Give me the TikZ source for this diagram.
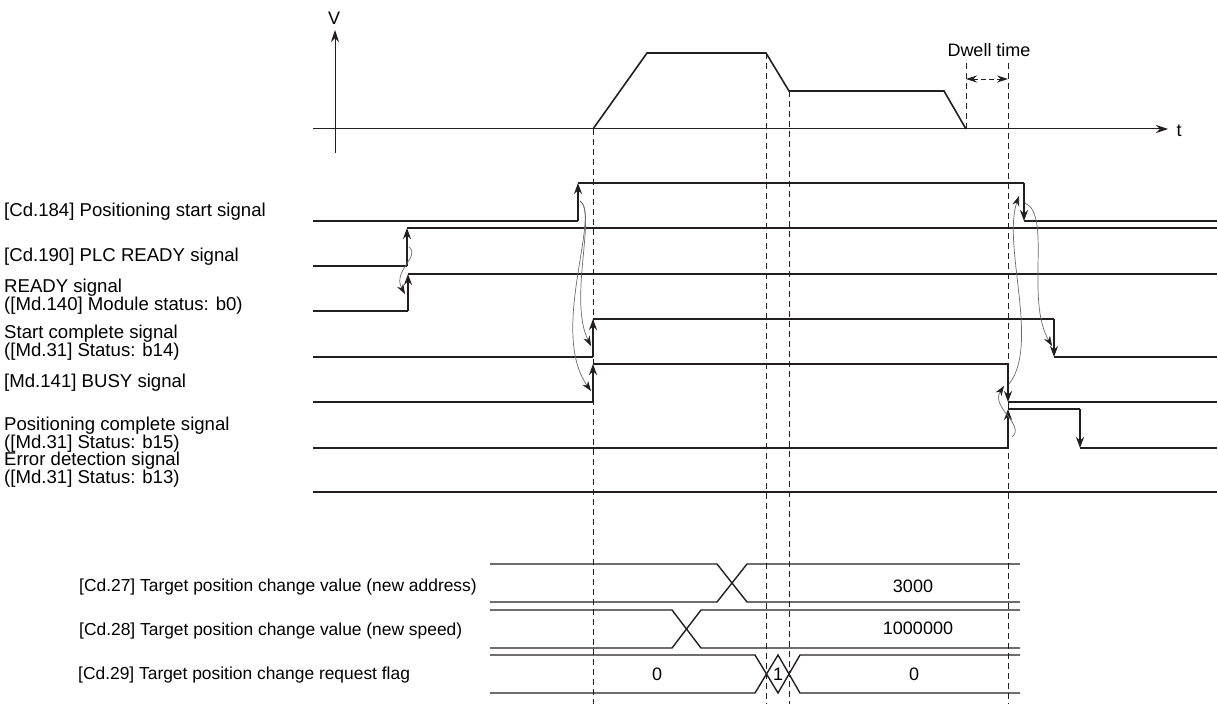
\documentclass[tikz,border=0pt]{standalone}
\usepackage{fontspec}
\setmainfont{Liberation Sans}
\usetikzlibrary{arrows.meta,positioning,calc}
\definecolor{sigblack}{HTML}{231F20}
\definecolor{causegrey}{HTML}{6A6A6A}
\tikzset{
  wave/.style       = {line width=2pt, draw=sigblack},
  edge/.style       = {line width=2pt, draw=sigblack, -{Stealth[length=11pt,width=8pt]}},
  profile/.style    = {line width=1.6pt, draw=sigblack, line join=miter},
  axis/.style       = {line width=1pt, draw=sigblack, -{Stealth[length=12pt,width=8pt]}},
  guide/.style      = {line width=0.9pt, draw=sigblack, dash pattern=on 6pt off 4pt},
  dwell/.style      = {line width=0.9pt, draw=sigblack, dash pattern=on 5pt off 3pt,
                       {Stealth[length=11pt,width=7pt]}-{Stealth[length=11pt,width=7pt]}},
  cause/.style      = {line width=0.7pt, draw=causegrey, -{Stealth[length=10pt,width=7pt,color=sigblack]}},
  bus/.style        = {line width=1.4pt, draw=sigblack},
  lbl/.style        = {font=\fontsize{18.6}{17}\selectfont, anchor=base west, align=left, inner sep=0pt},
  dlbl/.style       = {font=\fontsize{17.4}{17}\selectfont, anchor=base west, inner sep=0pt},
  val/.style        = {font=\fontsize{18}{18}\selectfont, inner sep=0pt},
}

\begin{document}
\begin{tikzpicture}[x=1pt, y=-1pt]
  \useasboundingbox (0,0) rectangle (1218,706);

  \draw[guide] (593,129) -- (593,704);
  \draw[guide] (766,53) -- (766,704);
  \draw[guide] (789,91) -- (789,704);
  \draw[guide] (966,63) -- (966,129);
  \draw[guide] (1008,63) -- (1008,704);

  \draw[axis] (335,153) -- (335,30);
  \draw[axis] (313,129) -- (1168,129);
  \node[val] (vlab) at (334,18) {V};
  \node[val] (tlab) at (1179,131) {t};
  \draw[profile] (593,129) -- (647,53) -- (766,53) -- (789,91) -- (944,91) -- (966,129);
  \node[val] (dwlab) at (989,50) {Dwell time};
  \draw[dwell] (966,79) -- (1008,79);

  \node[lbl] (cd184) at (4,216.5) {[Cd.184] Positioning start signal};
  \node[lbl] (cd190) at (4,261.5) {[Cd.190] PLC READY signal};
  \node[lbl] (ready) at (4,310.5) {READY signal\\([Md.140] Module status: b0)};
  \node[lbl] (stcmp) at (4,356.5) {Start complete signal\\([Md.31] Status: b14)};
  \node[lbl] (busy)  at (4,387.5) {[Md.141] BUSY signal};
  \node[lbl] (pscmp) at (4,448.5) {Positioning complete signal\\([Md.31] Status: b15)};
  \node[lbl] (error) at (4,483.5) {Error detection signal\\([Md.31] Status: b13)};

  \draw[wave] (313,221) -- (578,221);
  \draw[edge] (578,221) -- (578,183);
  \draw[wave] (578,183) -- (1024,183);
  \draw[edge] (1024,183) -- (1024,221);
  \draw[wave] (1024,221) -- (1217,221);

  \draw[wave] (313,266) -- (407,266);
  \draw[edge] (407,266) -- (407,228);
  \draw[wave] (407,228) -- (1217,228);

  \draw[wave] (313,311) -- (408,311);
  \draw[edge] (408,311) -- (408,274);
  \draw[wave] (408,274) -- (1217,274);

  \draw[wave] (313,357) -- (593,357);
  \draw[edge] (593,357) -- (593,319);
  \draw[wave] (593,319) -- (1054,319);
  \draw[edge] (1054,319) -- (1054,357);
  \draw[wave] (1054,357) -- (1217,357);

  \draw[wave] (313,402) -- (593,402);
  \draw[edge] (593,402) -- (593,364);
  \draw[wave] (593,364) -- (1008,364);
  \draw[edge] (1008,364) -- (1008,402);
  \draw[wave] (1008,402) -- (1217,402);

  \draw[wave] (313,448) -- (1008,448);
  \draw[edge] (1008,448) -- (1008,409);
  \draw[wave] (1008,409) -- (1080,409);
  \draw[edge] (1080,409) -- (1080,448);
  \draw[wave] (1080,448) -- (1217,448);

  \draw[wave] (313,492) -- (1217,492);

  \coordinate (plcOn)   at (409,247);
  \coordinate (rdyOn)   at (405,294);
  \coordinate (startOn) at (580,201);
  \coordinate (scOn)    at (591,346);
  \coordinate (busyOn)  at (591,391);
  \coordinate (startOff) at (1025,203);
  \coordinate (scOff)   at (1052,346);
  \coordinate (busyOff) at (1009,384);
  \coordinate (startOffB) at (1019,196);
  \coordinate (pcOn)    at (1012,437);
  \coordinate (busyOffB) at (1004,386);

  \draw[cause] (plcOn) .. controls (421,256) and (392,271) .. (rdyOn);
  \draw[cause] (startOn) .. controls (597,212) and (568,300) .. (scOn);
  \draw[cause] (startOn) .. controls (601,215) and (549,332) .. (busyOn);
  \draw[cause] (startOff) .. controls (1052,215) and (1025,300) .. (scOff);
  \draw[cause] (busyOff) .. controls (1040,345) and (1002,245) .. (startOffB);
  \draw[cause] (pcOn) .. controls (1026,425) and (990,407) .. (busyOffB);

  \node[dlbl] (cd27) at (79,591) {[Cd.27] Target position change value (new address)};
  \node[dlbl] (cd28) at (79,635) {[Cd.28] Target position change value (new speed)};
  \node[dlbl] (cd29) at (78,679) {[Cd.29] Target position change request flag};

  \draw[bus] (490,564) -- (717,564) -- (747,602) -- (1020,602);
  \draw[bus] (490,602) -- (717,602) -- (747,564) -- (1020,564);
  \node[val] (addr) at (913,586) {3000};

  \draw[bus] (490,610) -- (672,610) -- (701,648) -- (1020,648);
  \draw[bus] (490,648) -- (672,648) -- (701,610) -- (1020,610);
  \node[val] (spd) at (918,628) {1000000};

  \draw[bus] (490,655) -- (755,655) -- (778,693) -- (800,655) -- (1020,655);
  \draw[bus] (490,693) -- (755,693) -- (778,655) -- (800,693) -- (1020,693);
  \node[val] (flag0) at (657,674) {0};
  \node[val] (flag1) at (778,674) {1};
  \node[val] (flag2) at (914,674) {0};
\end{tikzpicture}
\end{document}
